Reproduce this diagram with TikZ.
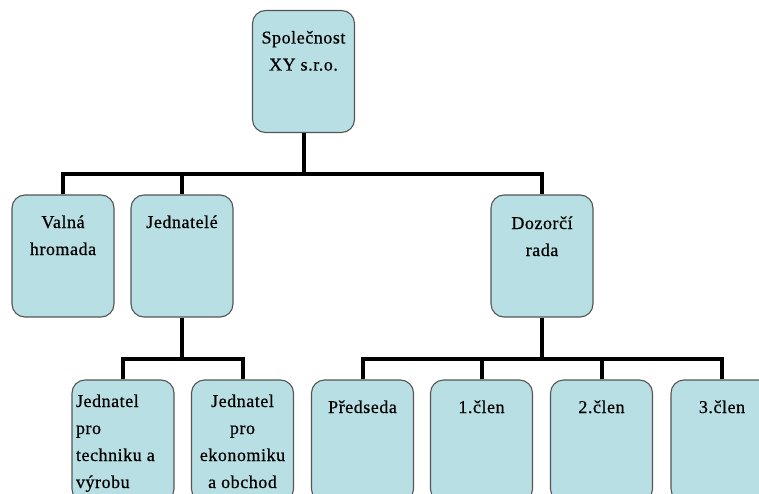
\documentclass[tikz,border=0pt]{standalone}
\usepackage{fontspec}
\setmainfont{Liberation Serif}[LetterSpace=3,FakeBold=0.6]
\usetikzlibrary{calc}
\definecolor{boxfill}{RGB}{184,223,227}
\definecolor{boxline}{RGB}{85,85,85}
\newcommand\ctext[2]{\parbox[c][122pt][t]{100pt}{\centering\rule{0pt}{#1}#2}}
\newcommand\ltext[2]{\parbox[c][122pt][t]{100pt}{\raggedright\leftskip=3pt\rule{0pt}{#1}#2}}
\begin{document}
\begin{tikzpicture}[x=1pt,y=-1pt,
  box/.style={draw=boxline, line width=1.1pt, fill=boxfill, rounded corners=13pt,
    inner sep=0pt, minimum width=102pt, minimum height=122pt,
    font=\fontsize{18}{27}\selectfont},
  conn/.style={line width=4pt, draw=black}]
\useasboundingbox (0,0) rectangle (759,494);
\clip (0,0) rectangle (759,494);
% boxes
\node[box] (top)   at (303.5,71.5) {\ctext{33pt}{Společnost\\XY s.r.o.}};
\node[box] (valna) at (63,256)    {\ctext{33pt}{Valná\\hromada}};
\node[box] (jedn)  at (182,256)   {\ctext{33pt}{Jednatelé}};
\node[box] (doz)   at (542,256)   {\ctext{34pt}{Dozorčí\\rada}};
\node[box] (j1)    at (123,441)   {\ltext{27pt}{Jednatel\\pro\\techniku a\\výrobu}};
\node[box] (j2)    at (242.5,441) {\ctext{27pt}{Jednatel\\pro\\ekonomiku\\a obchod}};
\node[box] (pred)  at (362.5,441) {\ctext{33pt}{Předseda}};
\node[box] (c1)    at (481.5,441) {\ctext{33pt}{1.člen}};
\node[box] (c2)    at (601.5,441) {\ctext{33pt}{2.člen}};
\node[box] (c3)    at (722,441)   {\ctext{33pt}{3.člen}};
% bars
\coordinate (b1) at (0,174);
\coordinate (b2) at (0,359);
% connectors
\draw[conn] (top.south) -- (top.south |- b1);
\draw[conn] (valna.north) |- (doz.north |- b1) -- (doz.north);
\draw[conn] (jedn.north) -- (jedn.north |- b1);
\draw[conn] (jedn.south) -- (jedn.south |- b2);
\draw[conn] (j1.north) |- (j2.north |- b2) -- (j2.north);
\draw[conn] (doz.south) -- (doz.south |- b2);
\draw[conn] (pred.north) |- (c3.north |- b2) -- (c3.north);
\draw[conn] (c1.north) -- (c1.north |- b2);
\draw[conn] (c2.north) -- (c2.north |- b2);
\end{tikzpicture}
\end{document}
